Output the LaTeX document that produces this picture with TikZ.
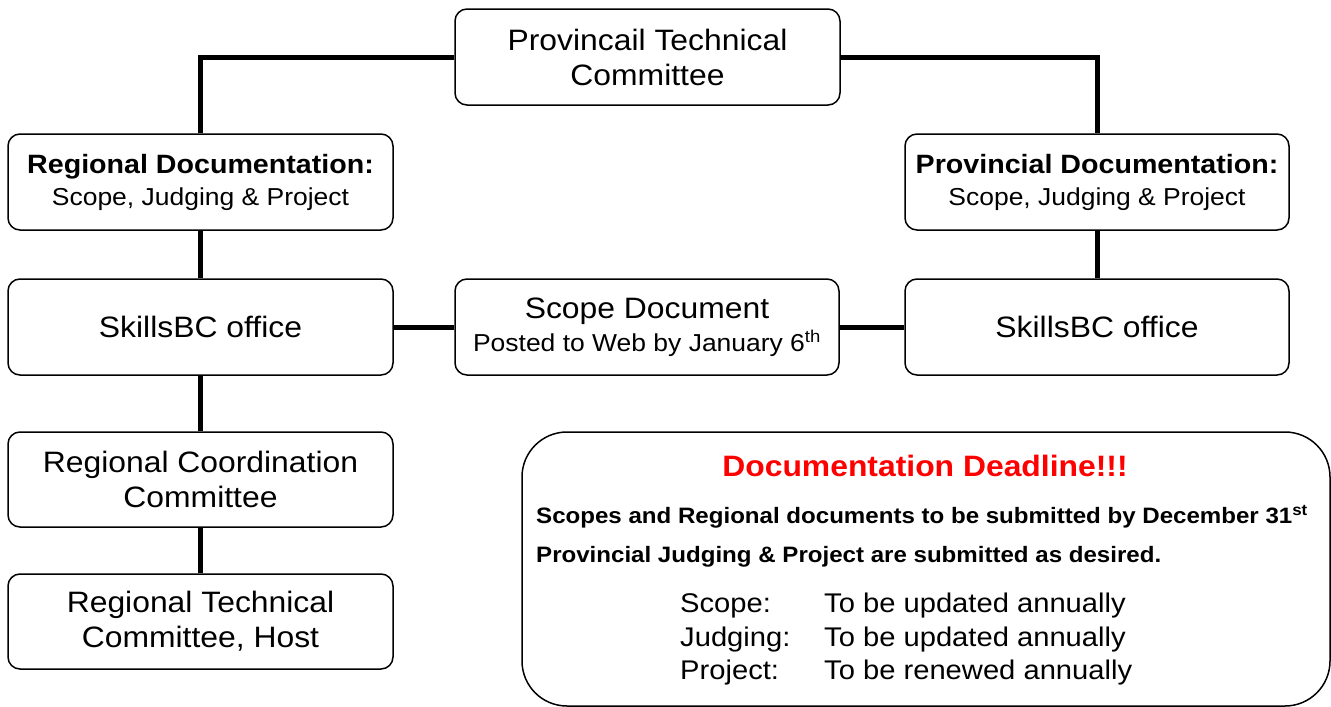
\documentclass[tikz,border=0pt]{standalone}
\usepackage{fontspec}
\setmainfont{Liberation Sans}[FakeStretch=1.08]
\begin{document}
\begin{tikzpicture}[x=1pt,y=-1pt,
  box/.style={draw, line width=1.5pt, rounded corners=12pt, align=center, inner sep=0pt,
    minimum width=385pt, minimum height=96pt, fill=white},
  big/.style={font=\fontsize{29.5}{35}\selectfont},
  conn/.style={line width=5pt},
  bline/.style={anchor=base west, inner sep=0pt, font=\bfseries\fontsize{22.3}{26}\selectfont},
  tline/.style={anchor=base west, inner sep=0pt, font=\fontsize{27}{30}\selectfont}]
\useasboundingbox (0,0) rectangle (1331,707);
\node[box, big] (ptc) at (647.5,57) {Provincail Technical\\Committee};
\node[box, font=\fontsize{24.5}{32}\selectfont] (rdoc) at (200.5,182)
  {{\bfseries\fontsize{26.5}{32}\selectfont Regional Documentation:}\\Scope, Judging \& Project};
\node[box, big] (rsk) at (200.5,327) {SkillsBC office};
\node[box, big, minimum height=95pt] (rcc) at (200.5,479.5) {Regional Coordination\\Committee};
\node[box, big, minimum height=95pt] (rtc) at (200.5,621.5) {Regional Technical\\Committee, Host};
\node[box, minimum width=384pt, font=\fontsize{24.5}{33}\selectfont] (scope) at (647,327)
  {{\fontsize{29.5}{33}\selectfont Scope Document}\\Posted to Web by January 6\textsuperscript{th}};
\node[box, minimum width=384pt, font=\fontsize{24.5}{32}\selectfont] (pdoc) at (1097,182)
  {{\bfseries\fontsize{26.5}{32}\selectfont Provincial Documentation:}\\Scope, Judging \& Project};
\node[box, big, minimum width=384pt] (psk) at (1097,327) {SkillsBC office};

\draw[conn] (ptc.west) -| (rdoc.north);
\draw[conn] (ptc.east) -| (pdoc.north);
\draw[conn] (rdoc.south) -- (rsk.north);
\draw[conn] (rsk.south) -- (rcc.north);
\draw[conn] (rcc.south) -- (rtc.north);
\draw[conn] (rsk.east) -- (scope.west);
\draw[conn] (scope.east) -- (psk.west);
\draw[conn] (pdoc.south) -- (psk.north);

\node[draw, line width=1.5pt, rounded corners=45pt, minimum width=808pt, minimum height=274pt,
  inner sep=0pt] (dl) at (926,569) {};
\node[text=red, font=\bfseries\fontsize{29.5}{32}\selectfont, inner sep=0pt] (head) at (925,466)
  {Documentation Deadline!!!};
\node[bline] (l1) at (536,523) {Scopes and Regional documents to be submitted by December 31\textsuperscript{st}};
\node[bline] (l2) at (536,562) {Provincial Judging \& Project are submitted as desired.};
\node[tline] (s1) at (680,612) {Scope:};
\node[tline] (s2) at (680,646) {Judging:};
\node[tline] (s3) at (680,679) {Project:};
\node[tline] (t1) at (824,612) {To be updated annually};
\node[tline] (t2) at (824,646) {To be updated annually};
\node[tline] (t3) at (824,679) {To be renewed annually};
\end{tikzpicture}
\end{document}
